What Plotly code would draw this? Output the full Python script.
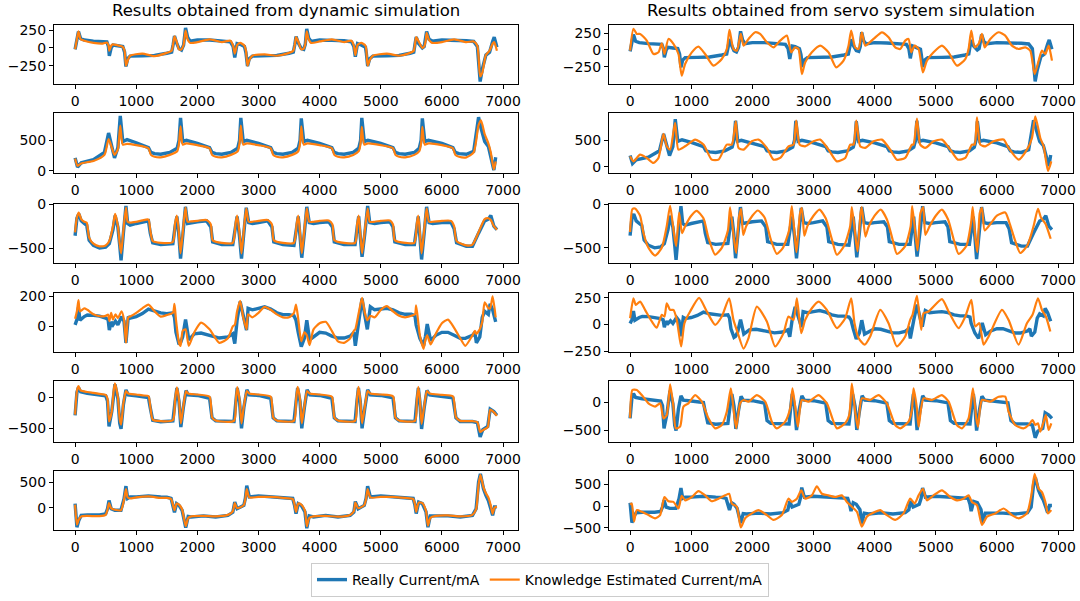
import plotly.graph_objects as go
from plotly.subplots import make_subplots

# sample index knots (shared by measured current and dynamic-simulation estimate)
x_j1 = [0, 30, 55, 90, 150, 300, 450, 520, 545, 560, 590, 620, 700, 780, 810, 832, 860, 900, 1100, 1300,
        1500, 1580, 1605, 1626, 1660, 1700, 1740, 1775, 1807, 1840, 1880, 2000, 2200, 2400, 2540, 2585, 2612, 2650, 2700, 2770,
        2795, 2820, 2850, 2900, 3100, 3300, 3500, 3570, 3595, 3614, 3650, 3700, 3740, 3765, 3789, 3820, 3860, 4000, 4200, 4400,
        4520, 4560, 4584, 4620, 4680, 4750, 4765, 4786, 4820, 4870, 5100, 5300, 5480, 5540, 5560, 5580, 5620, 5680, 5710, 5735,
        5750, 5790, 5840, 6000, 6200, 6400, 6520, 6580, 6626, 6660, 6720, 6780, 6830, 6856, 6900]
real_j1 = [-20, 100, 230, 130, 110, 95, 80, 85, 20, -110, 0, 40, 30, 20, -60, -260, -150, -115, -110, -105,
           -75, -60, 50, 165, 70, -10, -30, 40, 280, 150, 95, 110, 110, 100, 85, 20, -135, 60, 50, 20,
           -70, -255, -150, -115, -110, -105, -75, -60, 50, 160, 70, -10, -20, 50, 265, 140, 90, 110, 105, 100,
           85, 20, -125, 60, 40, 10, -80, -255, -150, -115, -110, -105, -75, -60, 50, 150, 60, 0, 20, 120,
           230, 120, 95, 110, 110, 100, 90, 20, -470, -300, -100, -60, 90, 150, 10]
dyn_j1 = [-20, 120, 230, 120, 100, 70, 60, 75, 40, -40, 30, 50, 35, 15, -40, -250, -180, -110, -80, -115,
          -70, -40, 60, 160, 90, -20, -20, 40, 240, 120, 70, 80, 120, 80, 100, 30, -80, 40, 70, 30,
          -40, -250, -170, -110, -90, -110, -70, -40, 50, 150, 90, -20, -10, 50, 230, 120, 70, 90, 120, 80,
          100, 30, -100, 40, 70, 30, -40, -250, -170, -110, -80, -110, -70, -40, 50, 150, 90, 0, 20, 100,
          210, 110, 70, 80, 120, 80, 90, 30, -400, -350, -100, -40, 60, 80, -40]

x_j2 = [0, 40, 100, 300, 480, 548, 600, 645, 700, 739, 780, 850, 1000, 1200, 1240, 1300, 1400, 1550, 1670, 1700,
        1725, 1760, 1820, 2000, 2200, 2240, 2300, 2400, 2550, 2660, 2690, 2711, 2750, 2810, 3000, 3200, 3240, 3300, 3400, 3550,
        3650, 3680, 3700, 3740, 3800, 4000, 4200, 4240, 4300, 4400, 4550, 4640, 4670, 4690, 4730, 4790, 5000, 5200, 5240, 5300,
        5400, 5550, 5630, 5660, 5680, 5720, 5780, 6000, 6180, 6220, 6280, 6400, 6520, 6600, 6640, 6700, 6760, 6800, 6850, 6880]
real_j2 = [210, 60, 130, 180, 300, 620, 400, 210, 380, 900, 480, 510, 460, 380, 300, 280, 270, 300, 370, 500,
           870, 480, 500, 450, 380, 300, 280, 270, 300, 370, 500, 870, 480, 500, 450, 380, 300, 280, 270, 300,
           370, 500, 860, 480, 500, 450, 380, 300, 280, 270, 300, 370, 500, 870, 480, 500, 450, 380, 300, 280,
           270, 300, 370, 500, 860, 480, 500, 450, 380, 300, 280, 270, 320, 880, 700, 480, 400, 250, 10, 220]
dyn_j2 = [200, 80, 120, 160, 260, 520, 380, 260, 350, 740, 430, 440, 420, 370, 260, 230, 220, 260, 320, 450,
          730, 430, 450, 420, 370, 260, 230, 220, 260, 320, 450, 740, 430, 450, 420, 370, 260, 230, 220, 260,
          320, 450, 730, 430, 450, 420, 370, 260, 230, 220, 260, 320, 450, 720, 430, 450, 420, 370, 260, 230,
          220, 260, 320, 450, 720, 430, 450, 420, 370, 260, 230, 220, 300, 750, 830, 600, 450, 300, 20, 150]

x_j3 = [0, 30, 60, 100, 150, 190, 230, 300, 400, 500, 560, 620, 655, 700, 730, 752, 790, 832, 860, 900,
        1000, 1100, 1200, 1230, 1270, 1400, 1600, 1635, 1665, 1695, 1725, 1765, 1805, 1840, 1900, 2000, 2150, 2220, 2250, 2400,
        2580, 2625, 2650, 2690, 2722, 2760, 2800, 2840, 2900, 3000, 3150, 3220, 3250, 3400, 3580, 3625, 3650, 3680, 3708, 3750,
        3790, 3830, 3900, 4000, 4150, 4210, 4240, 4400, 4580, 4615, 4639, 4665, 4694, 4740, 4786, 4820, 4900, 5000, 5150, 5200,
        5230, 5400, 5550, 5590, 5613, 5640, 5668, 5710, 5750, 5790, 5850, 6000, 6150, 6200, 6240, 6400, 6500, 6600, 6700, 6760,
        6800, 6850, 6900]
real_j3 = [-360, -160, -110, -190, -220, -240, -410, -470, -500, -490, -450, -290, -130, -260, -470, -640, -330, -20, -220, -240,
           -220, -200, -190, -330, -440, -460, -450, -260, -140, -330, -620, -330, -30, -220, -210, -200, -190, -260, -430, -460,
           -460, -260, -140, -370, -620, -330, -40, -210, -220, -210, -190, -260, -430, -460, -470, -260, -140, -370, -610, -330,
           -30, -210, -220, -210, -200, -260, -430, -460, -460, -260, -140, -370, -600, -330, -20, -210, -220, -210, -200, -260,
           -430, -460, -460, -260, -140, -370, -630, -330, -30, -210, -220, -210, -210, -280, -440, -480, -480, -330, -190, -170,
           -130, -250, -290]
dyn_j3 = [-320, -150, -95, -170, -200, -210, -380, -450, -480, -470, -420, -250, -110, -250, -450, -560, -300, -40, -200, -210,
          -200, -185, -175, -300, -420, -440, -430, -220, -130, -300, -560, -300, -40, -200, -195, -190, -180, -230, -410, -440,
          -440, -220, -130, -330, -560, -300, -50, -200, -200, -190, -180, -230, -410, -440, -440, -220, -130, -330, -560, -300,
          -50, -200, -200, -190, -185, -230, -410, -440, -440, -220, -130, -330, -560, -300, -50, -200, -200, -190, -185, -230,
          -410, -440, -440, -220, -130, -330, -560, -300, -50, -200, -200, -190, -190, -250, -420, -470, -460, -320, -170, -160,
          -180, -250, -290]

x_j4 = [0, 30, 55, 80, 150, 200, 300, 400, 500, 540, 560, 590, 620, 660, 700, 760, 800, 832, 870, 900,
        1000, 1100, 1200, 1300, 1400, 1500, 1600, 1626, 1650, 1700, 1725, 1760, 1807, 1860, 1950, 2060, 2200, 2360, 2500, 2580,
        2612, 2650, 2700, 2750, 2804, 2830, 2900, 3000, 3100, 3200, 3300, 3400, 3500, 3580, 3614, 3650, 3700, 3750, 3790, 3835,
        3900, 4000, 4100, 4200, 4300, 4400, 4500, 4560, 4584, 4640, 4694, 4740, 4780, 4830, 4900, 5000, 5100, 5200, 5300, 5400,
        5500, 5560, 5579, 5640, 5700, 5730, 5760, 5816, 5900, 6000, 6100, 6200, 6300, 6383, 6500, 6540, 6564, 6620, 6660, 6700,
        6760, 6790, 6830, 6880]
real_j4 = [10, 45, 125, 40, 65, 75, 73, 68, 55, 45, -25, 30, 10, 35, 10, 65, 35, -110, 65, 55,
           65, 85, 115, 100, 90, 85, 90, 60, -40, -120, -110, -70, 45, -90, -50, -45, -60, -78, -70, -50,
           -115, 40, 165, 65, -25, 120, 110, 120, 130, 115, 90, 78, 78, 70, 40, -40, -135, -80, 40, -90,
           -70, -40, -45, -65, -78, -78, -65, -40, -130, 40, 185, 70, -20, 130, 110, 115, 120, 110, 90, 80,
           80, 70, 10, -80, -130, -70, 15, -95, -60, -40, -40, -60, -80, -80, -60, -40, -110, -70, 60, 100,
           80, 150, 110, 30]
dyn_j4 = [50, 100, 175, 100, 120, 110, 80, 67, 70, 78, 35, 90, 45, 80, 55, 100, 45, -110, 60, 65,
          90, 120, 145, 100, 65, 75, 90, 150, 45, -110, -130, -30, -20, -130, -40, 25, -20, -110, -80, 0,
          10, 100, 170, 60, -20, 80, 60, 90, 130, 110, 80, 60, 60, 90, 145, 50, -100, -40, -60, -125,
          -20, 20, 30, -30, -100, -110, -80, -30, -20, 90, 190, 90, 40, 70, 60, 110, 135, 100, 70, 60,
          70, 80, 140, -60, -150, -90, -60, -120, -50, 20, 45, -10, -80, -130, -60, -30, -50, -20, 30, 160,
          120, 120, 200, 60]

x_j5 = [0, 30, 55, 90, 200, 300, 400, 500, 530, 555, 600, 630, 652, 700, 730, 752, 790, 832, 870, 1000,
        1100, 1200, 1230, 1270, 1400, 1600, 1635, 1665, 1700, 1730, 1770, 1815, 1850, 2000, 2200, 2240, 2300, 2600, 2630, 2652,
        2690, 2722, 2760, 2810, 2850, 3000, 3200, 3240, 3300, 3580, 3615, 3640, 3680, 3708, 3750, 3795, 3840, 4000, 4200, 4240,
        4300, 4580, 4610, 4635, 4665, 4694, 4740, 4786, 4830, 5000, 5200, 5240, 5300, 5560, 5590, 5615, 5640, 5668, 5710, 5755,
        5800, 6000, 6180, 6230, 6300, 6500, 6580, 6626, 6670, 6750, 6790, 6850, 6900]
real_j5 = [-290, 80, 160, 90, 65, 50, 40, 25, -60, -470, -230, 80, 210, -20, -420, -510, -120, 120, 40, 25,
           10, -5, -170, -370, -395, -380, -70, 150, -70, -480, -170, 110, 40, 30, -15, -330, -380, -390, -70, 150,
           -70, -500, -170, 120, 40, 30, -15, -330, -380, -390, -70, 150, -70, -500, -170, 120, 40, 30, -15, -330,
           -380, -390, -70, 150, -70, -500, -170, 120, 40, 30, -10, -330, -380, -390, -70, 150, -70, -510, -170, 110,
           40, 20, -10, -330, -390, -390, -410, -640, -520, -470, -190, -230, -290]
dyn_j5 = [-280, 100, 180, 110, 85, 70, 55, 40, -20, -390, -230, 100, 225, 0, -350, -440, -100, 100, 60, 45,
          30, 20, -150, -360, -385, -370, -40, 160, -40, -420, -150, 100, 60, 45, 10, -320, -375, -380, -40, 165,
          -40, -420, -150, 100, 60, 45, 10, -320, -375, -380, -40, 170, -40, -420, -150, 100, 60, 45, 10, -320,
          -375, -380, -40, 170, -40, -420, -150, 100, 60, 45, 15, -320, -375, -380, -40, 170, -40, -430, -150, 100,
          60, 40, 15, -320, -380, -385, -400, -560, -530, -480, -200, -240, -300]

x_j6 = [0, 30, 60, 100, 200, 400, 500, 530, 555, 590, 650, 750, 800, 832, 860, 900, 1000, 1200, 1400, 1500,
        1570, 1600, 1626, 1660, 1700, 1750, 1810, 1850, 1900, 2100, 2300, 2500, 2580, 2612, 2650, 2760, 2785, 2808, 2850, 3000,
        3200, 3400, 3560, 3590, 3614, 3650, 3700, 3760, 3790, 3830, 3900, 4100, 4300, 4500, 4560, 4584, 4630, 4730, 4760, 4785,
        4830, 5000, 5200, 5400, 5530, 5560, 5580, 5620, 5680, 5740, 5772, 5810, 5900, 6100, 6300, 6500, 6560, 6600, 6630, 6680,
        6720, 6760, 6800, 6830, 6860, 6900]
real_j6 = [80, -380, -250, -150, -140, -140, -120, -20, 140, -20, -50, -50, 170, 420, 180, 210, 210, 230, 210, 205,
           180, 50, -90, 80, 45, -50, -390, -170, -180, -160, -180, -150, -90, 110, -20, 45, 180, 430, 210, 230,
           210, 205, 180, 45, -115, 80, 45, -80, -400, -160, -180, -150, -180, -150, -85, 120, -20, 45, 180, 420,
           210, 230, 210, 205, 180, 45, -115, 110, 80, -80, -380, -160, -160, -160, -180, -150, -20, 500, 660, 370,
           240, 140, -20, -150, 15, 15]
dyn_j6 = [60, -330, -230, -170, -160, -165, -140, -40, 90, -10, -40, -50, 150, 360, 200, 180, 200, 220, 190, 190,
          170, 60, -50, 80, 60, -30, -360, -200, -170, -160, -170, -140, -70, 90, -10, 50, 170, 360, 200, 210,
          210, 190, 170, 60, -80, 80, 60, -60, -360, -200, -170, -160, -175, -140, -70, 100, -10, 50, 170, 360,
          200, 210, 210, 190, 170, 60, -80, 100, 90, -60, -350, -200, -160, -150, -170, -140, -30, 450, 640, 400,
          280, 200, 40, -120, 0, 20]

# servo-system simulation estimates (own knots)
x_s1 = [0, 55, 110, 164, 273, 382, 464, 518, 562, 627, 709, 791, 845, 900, 1009, 1118, 1227, 1364, 1500, 1582,
        1626, 1691, 1746, 1811, 1855, 1937, 2046, 2127, 2237, 2346, 2455, 2564, 2635, 2700, 2755, 2810, 2864, 2973, 3110, 3246,
        3371, 3491, 3573, 3617, 3682, 3737, 3791, 3846, 3982, 4119, 4228, 4337, 4419, 4500, 4555, 4599, 4654, 4719, 4790, 4855,
        4964, 5101, 5210, 5346, 5483, 5537, 5581, 5636, 5701, 5756, 5800, 5892, 6028, 6137, 6246, 6355, 6464, 6546, 6617, 6683,
        6737, 6792, 6846, 6901]
servo_s1 = [-10, 315, 240, 240, 140, -60, -35, 100, -60, 165, 90, -60, -385, -210, -35, 50, -60, -235, -135, 15,
            300, 15, -10, 240, 65, 165, 265, 240, 115, 40, 140, 215, -35, 40, 15, -360, -185, -35, 65, -35,
            -260, -160, 65, 290, 40, 15, 265, 65, 165, 265, 190, 40, 15, 140, 165, -35, 65, 15, -335, -160,
            -35, 65, -35, -235, -135, 15, 290, 40, 90, 240, 40, 165, 265, 215, 65, 15, 40, -10, -360, -160,
            -10, -60, 65, -160]

x_s2 = [0, 55, 164, 273, 382, 464, 546, 600, 655, 736, 791, 900, 1064, 1200, 1336, 1446, 1582, 1664, 1729, 1773,
        1855, 1991, 2100, 2237, 2346, 2455, 2591, 2673, 2717, 2773, 2864, 3000, 3110, 3246, 3382, 3519, 3600, 3655, 3700, 3764,
        3846, 3982, 4119, 4255, 4364, 4500, 4610, 4637, 4692, 4746, 4828, 4964, 5101, 5237, 5362, 5483, 5592, 5636, 5674, 5729,
        5810, 5946, 6110, 6191, 6355, 6491, 6574, 6628, 6710, 6765, 6836, 6890]
servo_s2 = [196, 100, 228, 165, 70, 165, 620, 386, 323, 830, 323, 386, 513, 418, 133, 133, 418, 418, 860, 355,
            323, 481, 513, 355, 133, 165, 386, 418, 873, 418, 386, 481, 513, 323, 100, 165, 418, 418, 873, 386,
            355, 481, 513, 323, 133, 165, 418, 418, 910, 418, 355, 481, 513, 323, 133, 165, 418, 418, 935, 418,
            386, 481, 513, 355, 133, 323, 544, 955, 544, 386, -80, 100]

x_s3 = [0, 38, 82, 164, 218, 300, 409, 518, 600, 655, 709, 753, 802, 850, 900, 1000, 1091, 1200, 1280, 1391,
        1500, 1600, 1636, 1700, 1735, 1780, 1816, 1850, 1900, 2000, 2090, 2200, 2300, 2400, 2500, 2600, 2646, 2700, 2722, 2780,
        2810, 2850, 2900, 3000, 3098, 3200, 3300, 3382, 3500, 3600, 3628, 3700, 3722, 3770, 3790, 3850, 3900, 4000, 4100, 4200,
        4300, 4364, 4500, 4590, 4615, 4680, 4702, 4750, 4795, 4830, 4900, 5000, 5100, 5200, 5300, 5373, 5500, 5580, 5605, 5650,
        5680, 5720, 5756, 5800, 5900, 6000, 6137, 6200, 6300, 6383, 6500, 6600, 6672, 6720, 6800, 6850, 6880]
servo_s3 = [-318, -54, -47, -132, -326, -500, -590, -500, -248, -16, -287, -481, -93, -330, -250, -130, -74, -160, -380, -578,
            -500, -300, -35, -400, -560, -150, -50, -350, -250, -130, -70, -150, -400, -570, -500, -300, -20, -420, -550, -100,
            -40, -360, -250, -130, -60, -160, -400, -580, -480, -250, -30, -450, -540, -100, -30, -370, -260, -130, -60, -170,
            -420, -570, -480, -250, -20, -420, -530, -100, -30, -350, -250, -130, -60, -170, -420, -570, -480, -200, -30, -400,
            -550, -100, -40, -300, -220, -130, -93, -200, -420, -560, -470, -250, -50, -150, -230, -330, -396]

x_s4 = [0, 55, 93, 164, 245, 355, 436, 518, 562, 600, 655, 709, 764, 835, 889, 982, 1129, 1255, 1391, 1500,
        1620, 1691, 1762, 1855, 1937, 2073, 2237, 2373, 2510, 2591, 2673, 2728, 2800, 2864, 2973, 3082, 3219, 3382, 3519, 3617,
        3671, 3737, 3835, 3928, 4091, 4228, 4364, 4500, 4582, 4620, 4692, 4762, 4800, 4882, 5101, 5210, 5373, 5483, 5581, 5647,
        5712, 5783, 5865, 6083, 6191, 6355, 6491, 6583, 6672, 6737, 6801, 6874]
servo_s4 = [59, 245, 183, 214, 136, 28, -30, 90, 74, 198, 136, 136, 43, -205, 12, 121, 248, 121, -3, 74,
            245, 43, -81, -225, -127, 167, 28, -205, -81, 74, 43, 245, -81, 43, 152, 214, 136, -34, 59, 245,
            12, -127, -189, -112, 136, 12, -205, -112, 43, 90, 267, -50, 105, 121, 236, 121, -34, 74, 229, -19,
            12, -189, -112, 136, 43, -189, 12, 90, 245, 136, 74, -65]

x_s5 = [0, 38, 109, 191, 300, 409, 491, 546, 600, 655, 709, 748, 818, 873, 955, 1064, 1173, 1282, 1391, 1500,
        1582, 1648, 1691, 1735, 1800, 1855, 1937, 2073, 2210, 2319, 2400, 2537, 2619, 2657, 2711, 2744, 2810, 2919, 3082, 3219,
        3382, 3519, 3585, 3628, 3682, 3726, 3791, 3928, 4064, 4200, 4337, 4419, 4555, 4610, 4637, 4692, 4719, 4800, 4937, 5101,
        5210, 5346, 5428, 5537, 5608, 5662, 5690, 5756, 5892, 6028, 6137, 6191, 6300, 6437, 6519, 6583, 6628, 6672, 6710, 6765,
        6801, 6846, 6890]
servo_s5 = [-277, 223, 223, 132, -18, -78, -18, -289, -229, 325, -78, -470, -440, -78, -18, 130, 12, -289, -470, -409,
            -169, 253, -108, -470, -18, 42, 12, 132, 12, -349, -470, -349, -108, 253, -169, -440, 42, 12, 132, -18,
            -470, -379, -229, 340, -169, -470, 72, 42, 132, -18, -409, -470, -349, -138, 253, -108, -440, 72, 42, 132,
            12, -409, -470, -289, 253, -289, -440, 42, 12, 102, 102, -169, -409, -470, -409, -319, -409, -379, -530, -349,
            -229, -500, -379]

x_s6 = [0, 27, 65, 109, 191, 300, 409, 491, 529, 562, 627, 709, 791, 845, 900, 1009, 1118, 1227, 1336, 1446,
        1555, 1620, 1664, 1746, 1811, 1882, 1991, 2100, 2237, 2346, 2482, 2591, 2646, 2728, 2800, 2864, 2973, 3055, 3137, 3246,
        3355, 3464, 3546, 3628, 3710, 3791, 3873, 4010, 4091, 4200, 4337, 4473, 4582, 4654, 4719, 4790, 4855, 4964, 5101, 5237,
        5346, 5455, 5537, 5592, 5674, 5756, 5838, 5974, 6110, 6246, 6355, 6491, 6563, 6617, 6683, 6737, 6792, 6836, 6890]
servo_s6 = [38, 61, -356, -91, -129, -205, -280, -205, 23, 212, 114, 99, -53, 240, 136, 212, 350, 250, 114, 174,
            250, 288, 61, -15, -490, -280, -167, -91, -205, -318, -205, 174, 99, 174, 364, 174, 250, 460, 288, 250,
            212, 250, 99, -15, -129, -470, -243, -129, -91, -205, -318, -167, 174, 61, 250, 402, 136, 250, 364, 212,
            136, 174, 250, 99, 23, -432, -243, -167, -53, -205, -280, -167, 250, 750, 402, 326, 99, -167, -91]

x_ticks = [0, 1000, 2000, 3000, 4000, 5000, 6000, 7000]
y_ticks_left = [[-250, 0, 250], [0, 500], [-500, 0], [0, 200], [-500, 0], [0, 500]]
y_ticks_right = [[-250, 0, 250], [0, 500], [-500, 0], [-250, 0, 250], [-500, 0], [-500, 0, 500]]
y_range_left = [[-505, 320], [-38, 949], [-670, 2], [-171, 222], [-721, 263], [-434, 714]]
y_range_right = [[-509, 374], [-120, 1017], [-675, 5], [-257, 294], [-717, 386], [-550, 813]]

rows_real = [(x_j1, real_j1), (x_j2, real_j2), (x_j3, real_j3), (x_j4, real_j4), (x_j5, real_j5), (x_j6, real_j6)]
rows_dyn = [(x_j1, dyn_j1), (x_j2, dyn_j2), (x_j3, dyn_j3), (x_j4, dyn_j4), (x_j5, dyn_j5), (x_j6, dyn_j6)]
rows_servo = [(x_s1, servo_s1), (x_s2, servo_s2), (x_s3, servo_s3), (x_s4, servo_s4), (x_s5, servo_s5), (x_s6, servo_s6)]

BLUE = "#1f77b4"
ORANGE = "#ff7f0e"
FONT = "DejaVu Sans"

W, H = 1080, 601
row_px = [(25, 84), (113, 173), (204, 263), (293, 352), (381, 442), (471, 530)]
col_px = [(54, 518), (609, 1073)]

fig = make_subplots(rows=6, cols=2)

for r in range(6):
    for c in range(2):
        xr, yr = rows_real[r]
        xo, yo = rows_dyn[r] if c == 0 else rows_servo[r]
        first = (r == 0 and c == 0)
        fig.add_trace(go.Scatter(x=xr, y=yr, mode="lines", name="Really Current/mA",
                                 line=dict(color=BLUE, width=3.4), showlegend=first,
                                 legendrank=1), row=r + 1, col=c + 1)
        fig.add_trace(go.Scatter(x=xo, y=yo, mode="lines", name="Knowledge Estimated Current/mA",
                                 line=dict(color=ORANGE, width=2.2, shape="spline", smoothing=0.6),
                                 showlegend=first, legendrank=2), row=r + 1, col=c + 1)
        top, bot = row_px[r]
        left, right = col_px[c]
        fig.update_xaxes(domain=[left / W, right / W], range=[-345, 7245], tickvals=x_ticks,
                         row=r + 1, col=c + 1)
        fig.update_yaxes(domain=[1 - bot / H, 1 - top / H],
                         range=(y_range_left if c == 0 else y_range_right)[r],
                         tickvals=(y_ticks_left if c == 0 else y_ticks_right)[r],
                         row=r + 1, col=c + 1)

fig.update_xaxes(showline=True, mirror=True, linecolor="black", linewidth=1, ticks="outside",
                 ticklen=4, tickcolor="black", showgrid=False, zeroline=False, automargin=False,
                 tickfont=dict(family=FONT, size=14, color="black"))
fig.update_yaxes(showline=True, mirror=True, linecolor="black", linewidth=1, ticks="outside",
                 ticklen=4, tickcolor="black", showgrid=False, zeroline=False, automargin=False,
                 tickfont=dict(family=FONT, size=14, color="black"))

fig.add_annotation(text="Results obtained from dynamic simulation", x=286 / W, y=1 - 11 / H,
                   xref="paper", yref="paper", showarrow=False, xanchor="center", yanchor="middle",
                   font=dict(family=FONT, size=16.5, color="black"))
fig.add_annotation(text="Results obtained from servo system simulation", x=841 / W, y=1 - 11 / H,
                   xref="paper", yref="paper", showarrow=False, xanchor="center", yanchor="middle",
                   font=dict(family=FONT, size=16.5, color="black"))

fig.update_layout(
    width=W, height=H,
    margin=dict(l=0, r=0, t=0, b=0),
    plot_bgcolor="white", paper_bgcolor="white",
    font=dict(family=FONT, size=14, color="black"),
    legend=dict(orientation="h", x=0.5, xanchor="center", y=1 - 563 / H, yanchor="top",
                bordercolor="#cccccc", borderwidth=1, bgcolor="white",
                font=dict(family=FONT, size=14, color="black"), traceorder="normal"),
)

fig.write_html("out.html", config={"displayModeBar": False},
               post_script="document.body.style.margin = '0';")
